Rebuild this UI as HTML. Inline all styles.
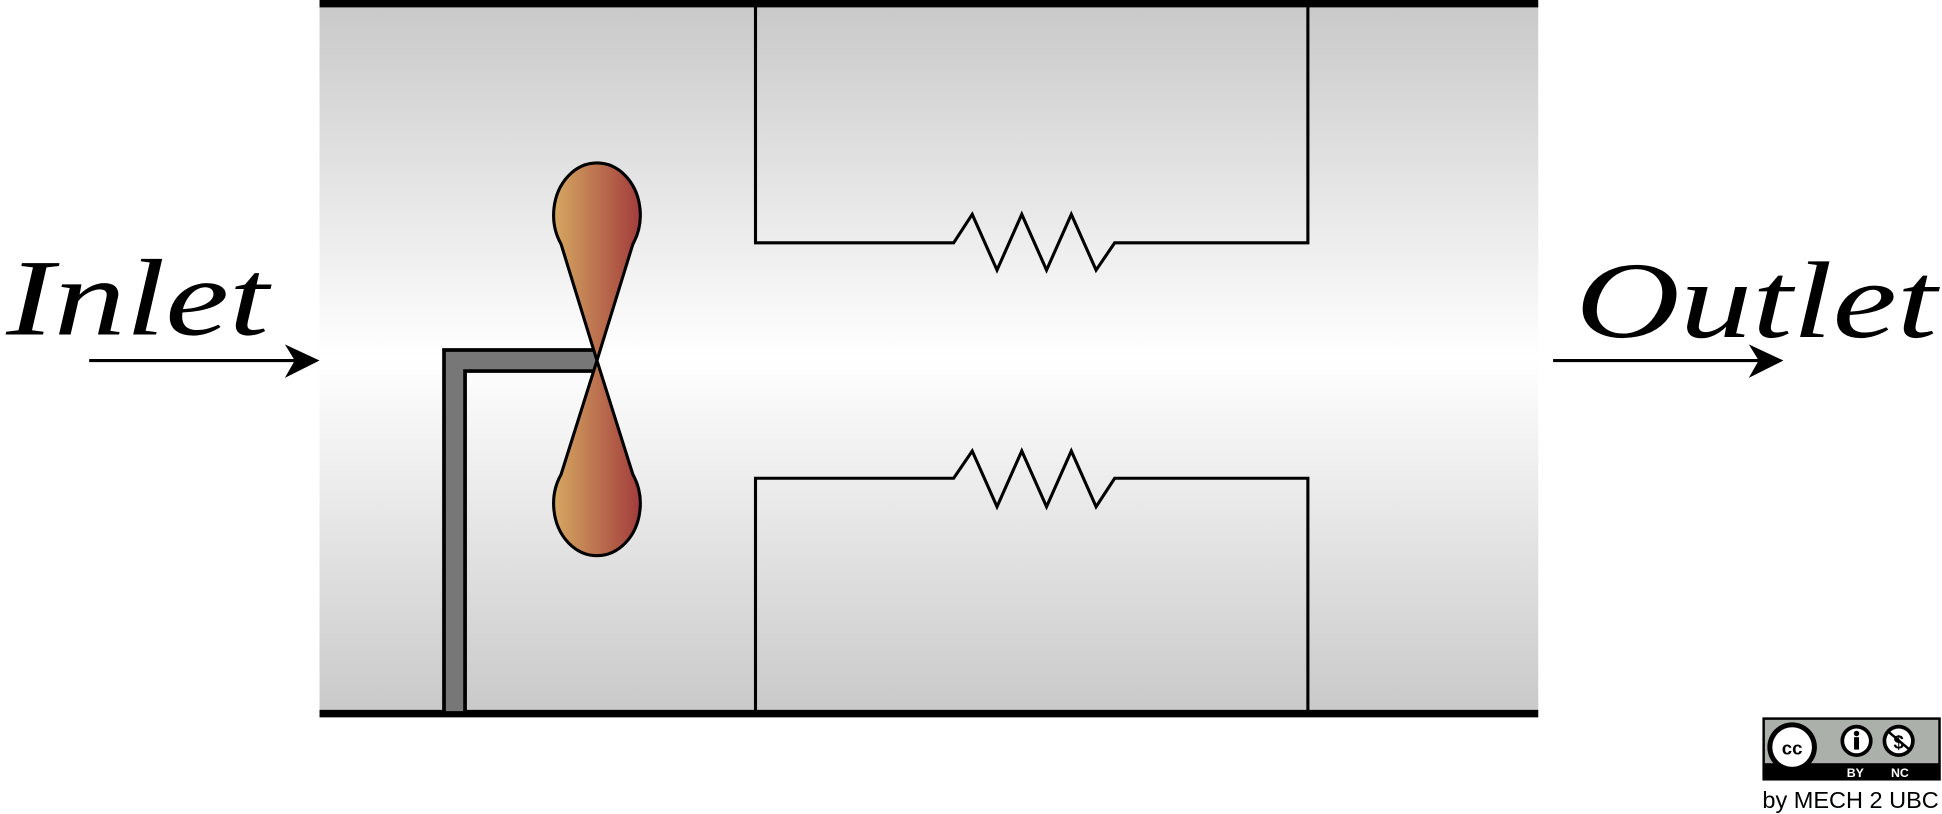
<!DOCTYPE html>
<html><head><meta charset="utf-8"><style>html,body{margin:0;padding:0;background:#fff}svg{display:block}</style></head>
<body>
<svg width="1942" height="814" viewBox="0 0 1568 657" preserveAspectRatio="none" xmlns="http://www.w3.org/2000/svg">
<defs>
<linearGradient id="pipe" x1="0" y1="0" x2="0" y2="1">
<stop offset="0" stop-color="#c9c9c9"/><stop offset="0.5" stop-color="#ffffff"/><stop offset="1" stop-color="#c9c9c9"/></linearGradient>
<linearGradient id="blade" x1="0" y1="0" x2="1" y2="0">
<stop offset="0" stop-color="#d6a862"/><stop offset="1" stop-color="#a23c3c"/></linearGradient>
</defs>
<rect x="258" y="3" width="984" height="573" fill="url(#pipe)"/>
<line x1="258" y1="3" x2="1242" y2="3" stroke="#000" stroke-width="6"/>
<line x1="258" y1="576" x2="1242" y2="576" stroke="#000" stroke-width="6"/>
<g fill="none" stroke="#000" stroke-width="2.5">
<polyline points="610,3 610,196 770,196 785,173 805,218 825,173 845,218 865,173 885,218 900,196 1056,196 1056,3"/>
</g>
<g fill="none" stroke="#000" stroke-width="2.5">
<polyline points="610,576 610,386 770,386 785,364 805,409 825,364 845,409 865,364 885,409 900,386 1056,386 1056,576"/>
</g>
<g>
<path d="M367,576 L367,291 L482,291" fill="none" stroke="#000" stroke-width="20"/>
<path d="M367,574 L367,291 L482,291" fill="none" stroke="#777" stroke-width="14"/>
</g>
<g fill="url(#blade)" stroke="#000" stroke-width="2.5">
<path d="M482,291 L453,197 A35,42 0 1 1 511,197 Z"/>
<path d="M482,291 L453,383 A35,42 0 1 0 511,383 Z"/>
</g>
<text x="5" y="270" font-family="Liberation Serif, serif" font-style="italic" font-size="88" textLength="212" lengthAdjust="spacingAndGlyphs">Inlet</text>
<g>
<line x1="72" y1="291" x2="245" y2="291" stroke="#000" stroke-width="2.5"/>
<path d="M230,278 L258,291 L230,305 L238,291 Z" fill="#000"/>
</g>
<text x="1272" y="272" font-family="Liberation Serif, serif" font-style="italic" font-size="88" textLength="292" lengthAdjust="spacingAndGlyphs">Outlet</text>
<g>
<line x1="1254" y1="291" x2="1428" y2="291" stroke="#000" stroke-width="2.5"/>
<path d="M1412,278 L1440,291 L1412,305 L1420,291 Z" fill="#000"/>
</g>
<g>
<rect x="1423" y="579" width="144" height="51" fill="#000"/>
<rect x="1425" y="581" width="140" height="35" fill="#abb1aa"/>
<circle cx="1447" cy="603" r="20" fill="#000"/><circle cx="1447" cy="603" r="16" fill="#fff"/>
<text x="1447" y="609" text-anchor="middle" font-family="Liberation Sans, sans-serif" font-weight="bold" font-size="15">cc</text>
<circle cx="1499" cy="598" r="13" fill="#000"/><circle cx="1499" cy="598" r="10" fill="#fff"/>
<circle cx="1499" cy="592" r="2.2" fill="#000"/><rect x="1497" y="595" width="4" height="10" fill="#000"/>
<circle cx="1533" cy="598" r="13" fill="#000"/><circle cx="1533" cy="598" r="10" fill="#fff"/>
<text x="1533" y="604" text-anchor="middle" font-family="Liberation Sans, sans-serif" font-weight="bold" font-size="15">$</text>
<line x1="1524" y1="590" x2="1543" y2="606" stroke="#000" stroke-width="2"/>
<text x="1498" y="627" text-anchor="middle" fill="#fff" font-family="Liberation Sans, sans-serif" font-weight="bold" font-size="10">BY</text>
<text x="1534" y="627" text-anchor="middle" fill="#fff" font-family="Liberation Sans, sans-serif" font-weight="bold" font-size="10">NC</text>
</g>
<text x="1423" y="652" font-family="Liberation Sans, sans-serif" font-size="19">by MECH 2 UBC</text>
</svg>
</body></html>
